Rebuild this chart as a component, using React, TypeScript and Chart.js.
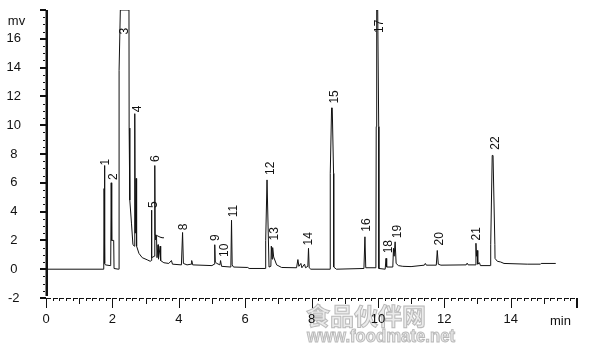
import { useEffect, useRef } from 'react';
import { Chart, registerables } from 'chart.js';

Chart.register(...registerables);

// Chromatogram trace: retention time (min) and detector signal (mV)
const retentionTimes = [
  0, 1.74, 1.75, 1.76, 1.775, 1.79, 1.93, 1.95, 1.965, 1.98, 2.04, 2.05, 2.18,
  2.2, 2.202, 2.24, 2.5, 2.505, 2.525, 2.575, 2.62, 2.665, 2.675, 2.69, 2.715, 2.73,
  2.8, 2.9, 3.05, 3.14, 3.17, 3.178, 3.19, 3.265, 3.278, 3.29, 3.33, 3.345, 3.375,
  3.39, 3.44, 3.455, 3.55, 3.7, 3.78, 3.81, 4.08, 4.115, 4.14, 4.25, 4.37, 4.39,
  4.42, 5.0, 5.07, 5.085, 5.1, 5.15, 5.24, 5.26, 5.29, 5.57, 5.59, 5.61, 5.65,
  6.08, 6.12, 6.615, 6.62, 6.66, 6.72, 6.775, 6.79, 6.81, 6.83, 6.86, 6.95, 7.1,
  7.55, 7.59, 7.62, 7.68, 7.71, 7.79, 7.82, 7.89, 7.91, 7.93, 7.98, 8.56, 8.565,
  8.605, 8.625, 8.665, 8.67, 8.75, 9.58, 9.61, 9.635, 9.94, 9.95, 9.965, 9.995,
  10.025, 10.03, 10.22, 10.245, 10.265, 10.45, 10.47, 10.49, 10.52, 10.55, 10.62,
  10.75, 11.0, 11.4, 11.43, 11.46, 11.76, 11.79, 11.82, 11.9, 12.66, 12.69, 12.72,
  12.93, 12.955, 12.97, 12.99, 13.01, 13.06, 13.09, 13.39, 13.4, 13.445, 13.47,
  13.525, 13.53, 13.6, 13.7, 13.8, 14.5, 14.9, 14.92, 15.36,
];
const signalMv = [
  0, 0, 5.6, 7.2, 0.4, 0.3, 0.25, 0.3, 6.0, 2.0, 2.0, 0.05, 0,
  0, 13.8, 18, 18, 9.8, 4.8, 3.2, 1.7, 1.6, 10.8, 2.5, 6.3, 1.6,
  1.1, 0.8, 0.65, 0.55, 0.6, 4.1, 0.8, 0.9, 7.2, 2.4, 2.3, 0.8, 1.7,
  0.7, 1.6, 0.6, 0.45, 0.4, 0.6, 0.35, 0.3, 2.55, 0.4, 0.3, 0.35, 0.6,
  0.3, 0.25, 0.35, 1.7, 0.5, 0.4, 0.3, 0.6, 0.2, 0.15, 3.4, 0.3, 0.15,
  0.12, 0.05, 0.05, 2.0, 6.2, 0.15, 0.2, 1.6, 0.7, 1.5, 0.85, 0.3, 0.12,
  0.1, 0.67, 0.2, 0.4, 0.1, 0.35, 0.1, 0.2, 1.45, 0.1, 0, 0, 6.65,
  11.2, 11.2, 6.65, 0.15, 0, 0.05, 2.25, 0.1, 0.1, 9.9, 18, 18,
  9.9, 0.05, 0, 0.75, 0.15, 0.15, 1.45, 0.9, 1.9, 0.4, 0.25,
  0.2, 0.18, 0.28, 0.4, 0.28, 0.28, 1.3, 0.35, 0.28, 0.3, 0.42, 0.3,
  0.3, 1.8, 0.9, 1.3, 0.35, 0.45, 0.25, 0.25, 1.7, 7.9, 7.9,
  1.7, 0.75, 0.55, 0.5, 0.4, 0.35, 0.35, 0.4, 0.4,
];

// Peak annotations: number, retention time, level (mV) where the label starts
const peakNames = [
  '1', '2', '3', '4', '5', '6', '7', '8', '9', '10', '11',
  '12', '13', '14', '15', '16', '17', '18', '19', '20', '21', '22',
];
const peakLabelTimes = [
  1.77, 2.02, 2.356, 2.725, 3.22, 3.28, 3.44, 4.12, 5.08, 5.35, 5.63,
  6.73, 6.87, 7.9, 8.66, 9.62, 10.02, 10.29, 10.58, 11.83, 12.96, 13.51,
];
const peakLabelLevels = [
  7.2, 6.2, 16.3, 10.9, 4.25, 7.45, 2.0, 2.7, 1.95, 0.85, 3.6,
  6.55, 2.0, 1.65, 11.5, 2.6, 16.4, 1.1, 2.15, 1.65, 2.0, 8.3,
];

const xMin = 0;
const xMax = 16;
const yMin = -2;
const yMax = 18;
const yUnit = 'mv';
const xUnit = 'min';
const watermarkTitle = '食品伙伴网';
const watermarkUrl = 'www.foodmate.net';

const FONT = '"Liberation Sans", Arial, sans-serif';

const chromPlugin = {
  id: 'chromPlugin',
  beforeDraw(chart: any) {
    const ctx = chart.ctx as CanvasRenderingContext2D;
    ctx.save();
    ctx.fillStyle = '#ffffff';
    ctx.fillRect(0, 0, chart.width, chart.height);
    // watermark
    ctx.globalAlpha = 0.7;
    ctx.lineWidth = 1;
    ctx.strokeStyle = '#a0a0a0';
    ctx.fillStyle = '#e2e2e2';
    ctx.textAlign = 'left';
    ctx.textBaseline = 'alphabetic';
    ctx.font = 'bold 24px "Noto Sans CJK SC", sans-serif';
    ctx.fillText(watermarkTitle, 306, 325, 122);
    ctx.strokeText(watermarkTitle, 306, 325, 122);
    ctx.font = 'bold 18px "Liberation Sans", Arial, sans-serif';
    ctx.fillText(watermarkUrl, 307, 342, 148);
    ctx.strokeText(watermarkUrl, 307, 342, 148);
    ctx.restore();
  },
  afterDatasetsDraw(chart: any) {
    const ctx = chart.ctx as CanvasRenderingContext2D;
    const xs = chart.scales.x;
    const ys = chart.scales.y;
    ctx.save();
    ctx.fillStyle = '#111';
    ctx.font = '12px ' + FONT;
    ctx.textAlign = 'left';
    ctx.textBaseline = 'alphabetic';
    const capH = 12 * 0.716;
    peakNames.forEach((name, i) => {
      const px = xs.getPixelForValue(peakLabelTimes[i]);
      const py = ys.getPixelForValue(peakLabelLevels[i]);
      ctx.save();
      ctx.translate(px, py);
      ctx.rotate(-Math.PI / 2);
      ctx.fillText(name, 0, capH / 2);
      ctx.restore();
    });
    ctx.restore();
  },
  afterDraw(chart: any) {
    const ctx = chart.ctx as CanvasRenderingContext2D;
    const xs = chart.scales.x;
    const ys = chart.scales.y;
    const area = chart.chartArea;
    ctx.save();
    ctx.fillStyle = '#111';
    // y axis line
    ctx.fillRect(45.5, area.top, 2.5, area.bottom - area.top - 2);
    // y ticks
    for (let k = 0; k <= (yMax - yMin) * 2; k++) {
      const v = yMin + k * 0.5;
      const y = Math.round(ys.getPixelForValue(v));
      if (k % 4 === 0) {
        ctx.fillRect(40, y - 1, 6, 2);
      } else {
        ctx.fillRect(43, y, 2, 1);
      }
    }
    // x axis (dashed with ticks)
    const y0 = Math.round(area.bottom);
    const n = Math.round((xMax - xMin) / 0.2);
    for (let k = 0; k <= n; k++) {
      const v = xMin + k * 0.2;
      const px = Math.round(xs.getPixelForValue(v));
      if (k === n) {
        ctx.fillRect(px - 1, y0, 2, 10);
        continue;
      }
      const len = k % 10 === 0 ? 10 : k % 5 === 0 ? 6 : 3;
      ctx.fillRect(px, y0, 1, len);
      ctx.fillRect(px, y0, 5, 1);
    }
    // units
    ctx.font = '13px ' + FONT;
    ctx.textAlign = 'center';
    ctx.textBaseline = 'alphabetic';
    ctx.fillText(yUnit, 16.5, 25);
    ctx.fillText(xUnit, 560.5, 325);
    ctx.restore();
  },
};

export default function App() {
  const ref = useRef<HTMLCanvasElement | null>(null);
  useEffect(() => {
    document.body.style.margin = '0';
    const canvas = ref.current;
    if (!canvas) return;
    const chart = new Chart(canvas, {
      type: 'line',
      data: {
        datasets: [
          {
            data: retentionTimes.map((t, i) => ({ x: t, y: signalMv[i] })),
            borderColor: '#111',
            borderWidth: 1,
            pointRadius: 0,
            tension: 0,
            fill: false,
          },
        ],
      },
      options: {
        responsive: false,
        animation: false,
        devicePixelRatio: 1,
        layout: { padding: { top: 10, right: 23, left: 0, bottom: 0 } },
        plugins: {
          legend: { display: false },
          tooltip: { enabled: false },
        },
        scales: {
          x: {
            type: 'linear',
            min: xMin,
            max: xMax,
            afterFit: (s: any) => {
              s.height = 61;
              s.paddingLeft = 0;
              s.paddingRight = 0;
            },
            grid: { display: false, drawTicks: false, tickLength: 0 },
            border: { display: false },
            ticks: {
              stepSize: 2,
              padding: 14,
              maxRotation: 0,
              autoSkip: false,
              color: '#111',
              font: { family: FONT, size: 13 },
              callback: (v: any) => (Number(v) >= xMax ? '' : String(v)),
            },
          },
          y: {
            type: 'linear',
            min: yMin,
            max: yMax,
            afterFit: (s: any) => {
              s.width = 46;
              s.paddingTop = 0;
              s.paddingBottom = 0;
            },
            grid: { display: false, drawTicks: false, tickLength: 0 },
            border: { display: false },
            ticks: {
              stepSize: 2,
              padding: 25,
              crossAlign: 'center',
              autoSkip: false,
              color: '#111',
              font: { family: FONT, size: 13 },
              callback: (v: any) => (Number(v) >= yMax ? '' : String(v)),
            },
          },
        },
      },
      plugins: [chromPlugin],
    } as any);
    return () => chart.destroy();
  }, []);
  return (
    <canvas
      ref={ref}
      width={600}
      height={359}
      style={{ display: 'block', width: 600, height: 359 }}
    />
  );
}
